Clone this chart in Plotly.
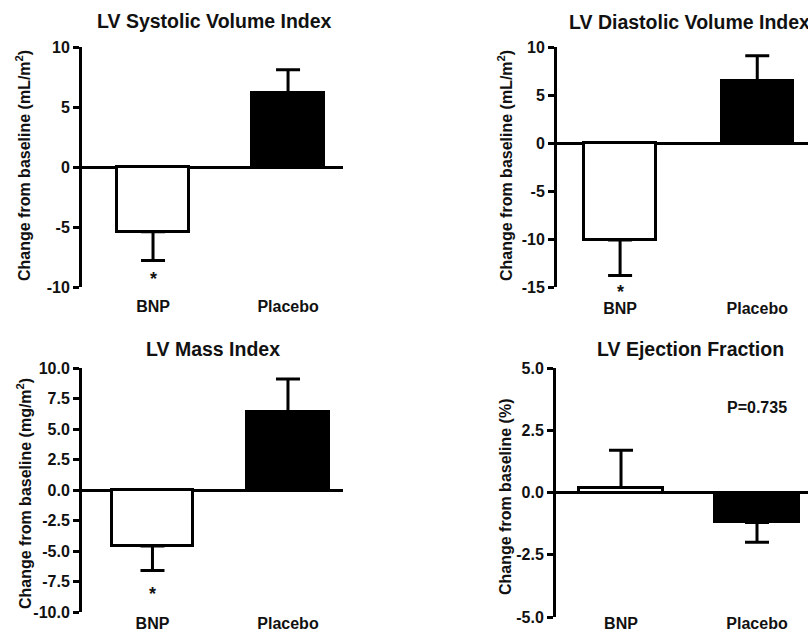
import plotly.graph_objects as go

# ---------------- data ----------------
categories = ["BNP", "Placebo"]
sys_mean = [-5.4, 6.2]
sys_err = [2.4, 1.9]
dia_mean = [-10.1, 6.5]
dia_err = [3.7, 2.6]
mass_mean = [-4.6, 6.4]
mass_err = [2.0, 2.7]
ef_mean = [0.2, -1.2]
ef_err = [1.5, 0.8]

titles = ["LV Systolic Volume Index", "LV Diastolic Volume Index",
          "LV Mass Index", "LV Ejection Fraction"]
ytitles = ["Change from baseline (mL/m<sup>2</sup>)",
           "Change from baseline (mL/m<sup>2</sup>)",
           "Change from baseline (mg/m<sup>2</sup>)",
           "Change from baseline (%)"]
yticks = [[-10, -5, 0, 5, 10],
          [-15, -10, -5, 0, 5, 10],
          [-10, -7.5, -5, -2.5, 0, 2.5, 5, 7.5, 10],
          [-5, -2.5, 0, 2.5, 5]]
yticklabels = [["-10", "-5", "0", "5", "10"],
               ["-15", "-10", "-5", "0", "5", "10"],
               ["-10.0", "-7.5", "-5.0", "-2.5", "0.0", "2.5", "5.0", "7.5", "10.0"],
               ["-5.0", "-2.5", "0.0", "2.5", "5.0"]]
yranges = [[-10, 10], [-15, 10], [-10, 10], [-5, 5]]
pvalue_text = "P=0.735"

W, H = 808, 635
FONT = "Liberation Sans, Arial, Helvetica, sans-serif"
INK = "#111111"

def px(x):
    return x / W

def py(y):
    return 1 - y / H

# layout geometry (pixels)
panels = [
    dict(xd=(82, 343), yd=(47, 287), xr=[-0.526, 1.407], bw=0.533,
         tx=214, ty=21, ytx=23, yty=166, star_y=279, cat_stand=8),
    dict(xd=(557, 808), yd=(47, 287), xr=[-0.46, 1.37], bw=0.52,
         tx=689, ty=22, ytx=505, yty=166, star_y=292, cat_stand=10),
    dict(xd=(82, 343), yd=(368, 612), xr=[-0.52, 1.406], bw=0.60,
         tx=213, ty=349, ytx=24, yty=494, star_y=594, cat_stand=0),
    dict(xd=(556, 808), yd=(368, 617), xr=[-0.478, 1.375], bw=0.62,
         tx=690, ty=349, ytx=505, yty=497, star_y=None, cat_stand=-5),
]

means = [sys_mean, dia_mean, mass_mean, ef_mean]
errs = [sys_err, dia_err, mass_err, ef_err]

fig = go.Figure()
annotations = []
layout_axes = {}

for i, (p, m, e) in enumerate(zip(panels, means, errs)):
    n = "" if i == 0 else str(i + 1)
    plus = [ee if mm >= 0 else 0 for mm, ee in zip(m, e)]
    minus = [ee if mm < 0 else 0 for mm, ee in zip(m, e)]
    fig.add_trace(go.Bar(
        x=[0, 1], y=m, width=p["bw"],
        marker=dict(color=["white", "black"], line=dict(color="black", width=3)),
        error_y=dict(type="data", symmetric=False, array=plus, arrayminus=minus,
                     color="black", thickness=3, width=12),
        xaxis="x" + n, yaxis="y" + n, showlegend=False, hoverinfo="skip",
    ))
    layout_axes["xaxis" + n] = dict(
        domain=[px(p["xd"][0]), px(p["xd"][1])], range=p["xr"],
        anchor="y" + n, tickvals=[0, 1], ticktext=categories,
        showline=False, zeroline=False, showgrid=False, ticks="",
        tickfont=dict(family=FONT, size=16, color=INK, weight="bold"),
        ticklabelstandoff=p["cat_stand"], fixedrange=True, automargin=False,
    )
    layout_axes["yaxis" + n] = dict(
        domain=[py(p["yd"][1]), py(p["yd"][0])], range=yranges[i],
        anchor="x" + n, tickvals=yticks[i], ticktext=yticklabels[i],
        showline=True, linecolor="black", linewidth=3,
        ticks="outside", ticklen=6, tickwidth=3, tickcolor="black",
        showgrid=False, zeroline=True, zerolinecolor="black", zerolinewidth=3,
        tickfont=dict(family=FONT, size=16, color=INK, weight="bold"),
        fixedrange=True, automargin=False,
    )
    annotations.append(dict(
        text="<b>" + titles[i] + "</b>", x=px(p["tx"]), y=py(p["ty"]),
        xref="paper", yref="paper", xanchor="center", yanchor="middle",
        showarrow=False, font=dict(family=FONT, size=19.5, color=INK)))
    annotations.append(dict(
        text="<b>" + ytitles[i] + "</b>", x=px(p["ytx"]), y=py(p["yty"]),
        xref="paper", yref="paper", xanchor="center", yanchor="middle",
        textangle=-90, showarrow=False, font=dict(family=FONT, size=16, color=INK)))
    if p["star_y"] is not None:
        annotations.append(dict(
            text="<b>*</b>", x=0, y=py(p["star_y"]), xref="x" + n, yref="paper",
            xanchor="center", yanchor="middle", showarrow=False,
            font=dict(family=FONT, size=18, color=INK)))

annotations.append(dict(
    text="<b>" + pvalue_text + "</b>", x=1, y=3.4, xref="x4", yref="y4",
    xanchor="center", yanchor="middle", showarrow=False,
    font=dict(family=FONT, size=16, color=INK)))

fig.update_layout(
    width=W, height=H, margin=dict(l=0, r=0, t=0, b=0, autoexpand=False),
    paper_bgcolor="white", plot_bgcolor="white",
    annotations=annotations, bargap=0, **layout_axes,
)

fig.write_html(
    "out.html", config={"displayModeBar": False},
    post_script="document.body.style.margin='0';document.body.style.padding='0';"
                "document.body.style.overflow='hidden';",
)
